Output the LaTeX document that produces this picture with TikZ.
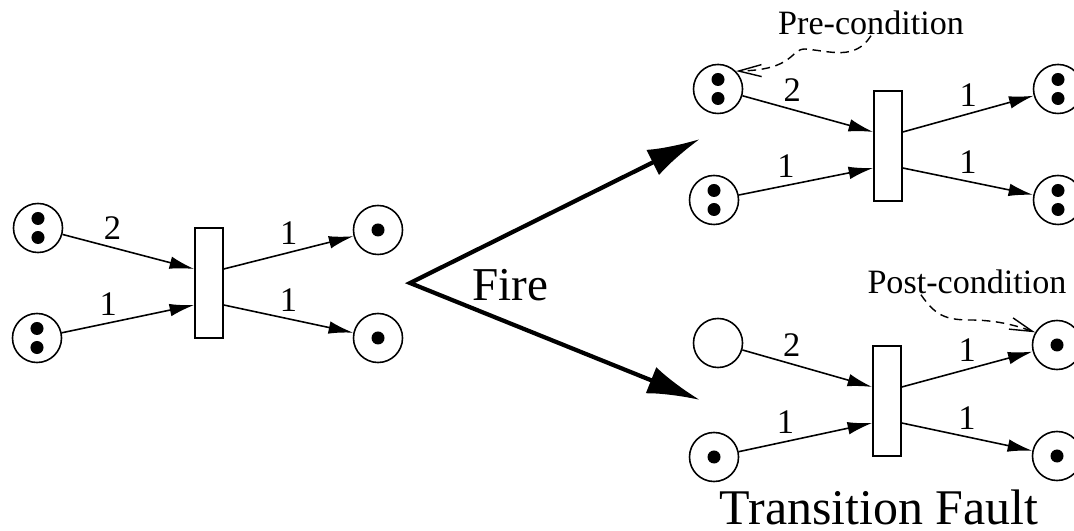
\documentclass[tikz,border=0pt]{standalone}
\usepackage{fontspec}
\setmainfont{Liberation Serif}
\usetikzlibrary{arrows.meta,calc}

\begin{document}
\begin{tikzpicture}[
    x=0.01cm, y=0.01cm,
    place/.style={circle, draw, minimum size=0.49cm, inner sep=0pt, line width=0.45pt},
    onetoken/.style={place, path picture={
        \fill (path picture bounding box.center) circle (0.065cm);}},
    twotokens/.style={place, path picture={
        \fill ([yshift=0.095cm]path picture bounding box.center) circle (0.065cm);
        \fill ([yshift=-0.095cm]path picture bounding box.center) circle (0.065cm);}},
    transition/.style={rectangle, draw, minimum width=0.28cm, minimum height=1.1cm, inner sep=0pt, line width=0.45pt},
    flow/.style={-{Latex[length=7pt,width=3.6pt]}, line width=0.45pt},
    weight/.style={above, inner sep=2pt, font=\fontsize{9.8}{11}\selectfont},
    fire/.style={{Latex[length=15pt,width=8pt]}-{Latex[length=15pt,width=8pt]}, line width=1.2pt},
    note/.style={-{Straight Barb[length=6.5pt,width=3.4pt]}, dash pattern=on 2.4pt off 1.6pt, line width=0.4pt},
    caption/.style={font=\fontsize{9.7}{12}\selectfont, inner sep=0pt},
]
    \useasboundingbox (0,0) rectangle (1074,531);

    % Marking before firing
    \node[twotokens] (L1) at (38,303) {};
    \node[twotokens] (L2) at (37,193) {};
    \node[transition] (T0) at (209,248) {};
    \node[onetoken] (R1) at (378,301) {};
    \node[onetoken] (R2) at (378,193) {};

    % Inputs not consumed
    \node[twotokens] (A1) at (718,442) {};
    \node[twotokens] (A2) at (714,331) {};
    \node[transition] (TA) at (888,385) {};
    \node[twotokens] (A3) at (1058,442) {};
    \node[twotokens] (A4) at (1058,331) {};

    % Outputs not produced
    \node[place] (B1) at (718,188) {};
    \node[onetoken] (B2) at (714,74) {};
    \node[transition] (TB) at (887,130) {};
    \node[onetoken] (B3) at (1057,186) {};
    \node[onetoken] (B4) at (1057,75) {};

    % Weighted arcs of each net
    \foreach \t/\a/\b/\c/\d in {T0/L1/L2/R1/R2, TA/A1/A2/A3/A4, TB/B1/B2/B3/B4} {
        \draw[flow] (\a) -- node[weight, pos=0.38] {2} ([yshift=0.14cm]\t.west);
        \draw[flow] (\b) -- node[weight, pos=0.35] {1} ([yshift=-0.22cm]\t.west);
        \draw[flow] ([yshift=0.14cm]\t.east) -- node[weight, pos=0.5] {1} (\c);
        \draw[flow] ([yshift=-0.22cm]\t.east) -- node[weight, pos=0.5] {1} (\d);
    }

    % Firing
    \coordinate (split) at (410,248);
    \coordinate (good) at (700,392);
    \coordinate (bad) at (700,131);
    \draw[fire] (good) -- (split) -- (bad);
    \node[font=\fontsize{13.4}{16}\selectfont] (firelabel) at (510,246) {Fire};

    % Annotations
    \node[caption] (pre) at (871,508) {Pre-condition};
    \draw[note] (pre.south) .. controls (855,470) and (830,480) .. (805,482)
        .. controls (790,482) and (795,461) .. (A1.45);
    \node[caption] (post) at (967,249) {Post-condition};
    \draw[note] ($(post.south west)!0.27!(post.south east)$) .. controls (935,216) and (945,211) .. (970,211)
        .. controls (995,211) and (1015,206) .. (B3.150);

    \node[font=\fontsize{14.2}{17}\selectfont] (fault) at (879,24) {Transition Fault};
\end{tikzpicture}
\end{document}
